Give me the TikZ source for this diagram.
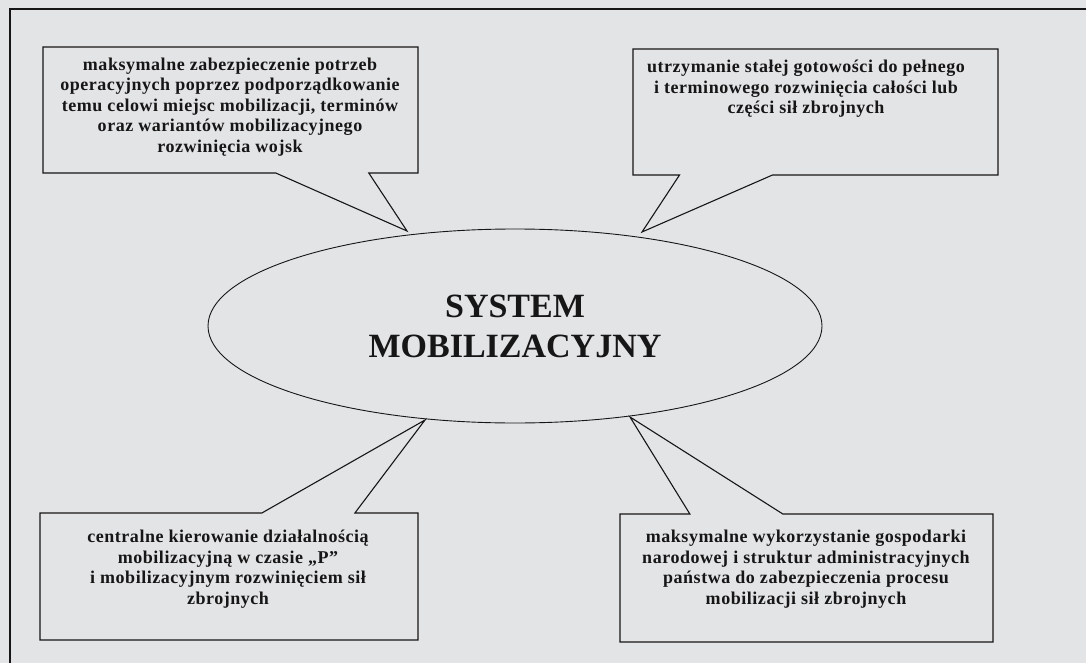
\documentclass[tikz,border=0pt]{standalone}
\usepackage{fontspec}
\setmainfont{Liberation Serif}
\newfontfamily\boxfont[LetterSpace=3]{Liberation Serif}
\usetikzlibrary{shapes.geometric,shapes.callouts}
\definecolor{paper}{RGB}{227,228,230}
\definecolor{ink}{RGB}{22,22,22}
\tikzset{
  callbox/.style={rectangle callout, draw=ink, line width=1.1pt, inner sep=0pt,
    outer sep=0pt, callout pointer width=93pt},
  boxtext/.style={font=\boxfont\bfseries\fontsize{18}{20.5}\selectfont,
    align=center, text=ink, inner sep=0pt},
  frameline/.style={draw=ink, line width=1.6pt},
  core/.style={ellipse, draw=ink, line width=0.9pt, inner sep=0pt,
    minimum width=614pt, minimum height=194pt, align=center, text=ink,
    font=\bfseries\fontsize{34}{40}\selectfont}
}
\begin{document}
\begin{tikzpicture}[x=1pt,y=-1pt]
  \useasboundingbox (0,0) rectangle (1086,663);
  \clip (0,0) rectangle (1086,663);
  \fill[paper] (0,0) rectangle (1086,663);

  % outer frame (runs off the right and bottom edges)
  \draw[frameline] (10,720) -- (10,9) -- (1120,9);

  % central ellipse
  \node[core] (sys) at (515,326) {SYSTEM\\MOBILIZACYJNY};

  % pointer tips on the ellipse
  \coordinate (p1) at (407,231);
  \coordinate (p2) at (642,232);
  \coordinate (p3) at (425,420);
  \coordinate (p4) at (630,417);

  % callout boxes
  \node[callbox, minimum width=375pt, minimum height=126pt,
        callout absolute pointer={(p1)}] (b1) at (230.5,110) {};
  \node[callbox, minimum width=365pt, minimum height=126pt,
        callout absolute pointer={(p2)}] (b2) at (815.5,112) {};
  \node[callbox, minimum width=378pt, minimum height=127pt,
        callout absolute pointer={(p3)}] (b3) at (229,576.5) {};
  \node[callbox, minimum width=373pt, minimum height=128pt,
        callout absolute pointer={(p4)}] (b4) at (806.5,578) {};

  % box texts
  \node[boxtext] (t1) at (230,107) {maksymalne zabezpieczenie potrzeb\\
    operacyjnych poprzez podporządkowanie\\temu celowi miejsc mobilizacji, terminów\\
    oraz wariantów mobilizacyjnego\\rozwinięcia wojsk};
  \node[boxtext] (t2) at (806,89) {utrzymanie stałej gotowości do pełnego\\
    i terminowego rozwinięcia całości lub\\części sił zbrojnych};
  \node[boxtext] (t3) at (228,569) {centralne kierowanie działalnością\\
    mobilizacyjną w czasie „P”\\i mobilizacyjnym rozwinięciem sił\\zbrojnych};
  \node[boxtext] (t4) at (806,569) {maksymalne wykorzystanie gospodarki\\
    narodowej i struktur administracyjnych\\państwa do zabezpieczenia procesu\\
    mobilizacji sił zbrojnych};
\end{tikzpicture}
\end{document}
